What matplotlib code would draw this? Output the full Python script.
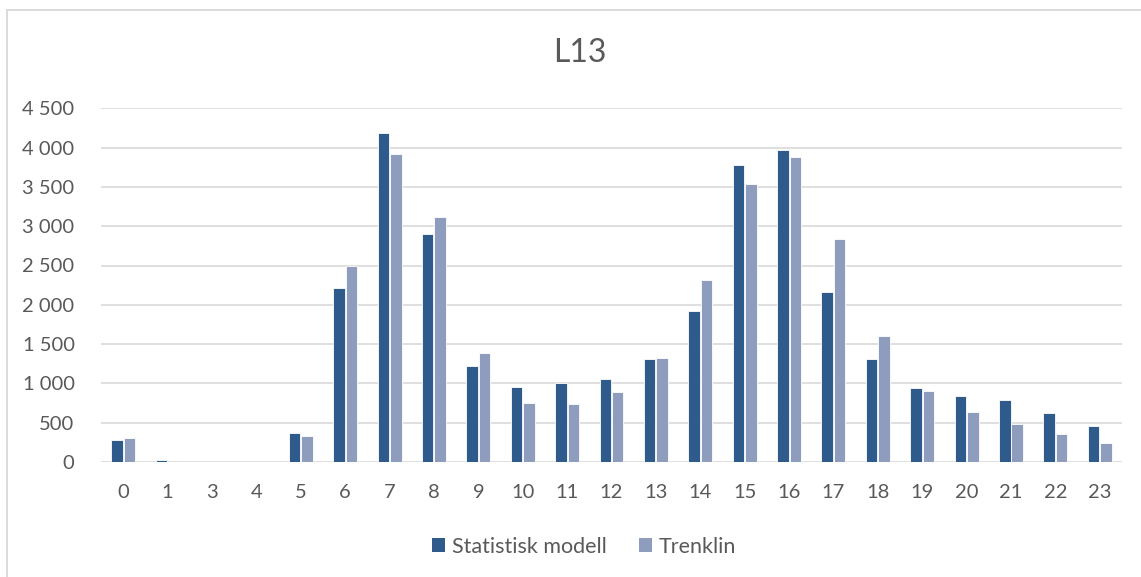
import matplotlib
matplotlib.use("Agg")
import matplotlib.pyplot as plt
from matplotlib.lines import Line2D
from matplotlib.patches import Patch
import numpy as np

# Hourly passenger counts for line L13
hours = ["0", "1", "3", "4", "5", "6", "7", "8", "9", "10", "11", "12",
         "13", "14", "15", "16", "17", "18", "19", "20", "21", "22", "23"]
statistisk_modell = [285, 20, 0, 0, 369, 2208, 4189, 2896, 1222, 951, 1011, 1062,
                     1312, 1915, 3774, 3969, 2165, 1312, 947, 837, 790, 624, 455]
trenklin = [311, 0, 0, 0, 331, 2496, 3922, 3120, 1393, 747, 739, 887,
            1329, 2314, 3536, 3880, 2832, 1604, 904, 633, 489, 357, 242]

series_names = ["Statistisk modell", "Trenklin"]
yticks = [0, 500, 1000, 1500, 2000, 2500, 3000, 3500, 4000, 4500]

dark = "#2E5A8C"
light = "#8E9DBD"
text_col = "#595959"
grid_col = "#D9D9D9"
font = ["Lato", "DejaVu Sans"]

W, H = 1141, 577
fig = plt.figure(figsize=(W / 100, H / 100), dpi=100)
ax = fig.add_axes([101 / W, (H - 462) / H, (1122 - 101) / W, (462 - 108.3) / H])

x = np.arange(len(hours))
bw = 0.26
ax.bar(x - 0.14, statistisk_modell, width=bw, color=dark, edgecolor="white",
       linewidth=0.6, zorder=3)
ax.bar(x + 0.14, trenklin, width=bw, color=light, edgecolor="white",
       linewidth=0.6, zorder=3)

ax.set_xlim(-0.5, len(hours) - 0.5)
ax.set_ylim(0, 4500)
ax.set_xticks(x)
ax.set_xticklabels(hours, family=font, fontsize=14.5, color=text_col)
ax.set_yticks(yticks)
ax.set_yticklabels([f"{v:,}".replace(",", " ") for v in yticks],
                   family=font, fontsize=14.5, color=text_col)
ax.tick_params(axis="both", length=0)
ax.tick_params(axis="x", pad=16)
ax.tick_params(axis="y", pad=19)
ax.grid(axis="y", color=grid_col, linewidth=1.2, zorder=0)
for s in ax.spines.values():
    s.set_visible(False)

fig.text(580 / W, 1 - 53 / H, "L13", ha="center", va="center",
         family=font, fontsize=23, color=text_col)

handles = [Patch(facecolor=dark), Patch(facecolor=light)]
fig.legend(handles, series_names, loc="center", bbox_to_anchor=(584 / W, 1 - 547 / H),
           ncol=2, frameon=False, prop={"family": font, "size": 15.5},
           labelcolor=text_col, handlelength=0.62, handleheight=0.62,
           handletextpad=0.3, columnspacing=1.5)

# chart frame
fig.add_artist(Line2D([7 / W, 1], [1 - 9.5 / H, 1 - 9.5 / H], color=grid_col, linewidth=1.3))
fig.add_artist(Line2D([7 / W, 7 / W], [0, 1 - 9.5 / H], color=grid_col, linewidth=1.3))

fig.savefig("out.png", dpi=100, facecolor="white")
